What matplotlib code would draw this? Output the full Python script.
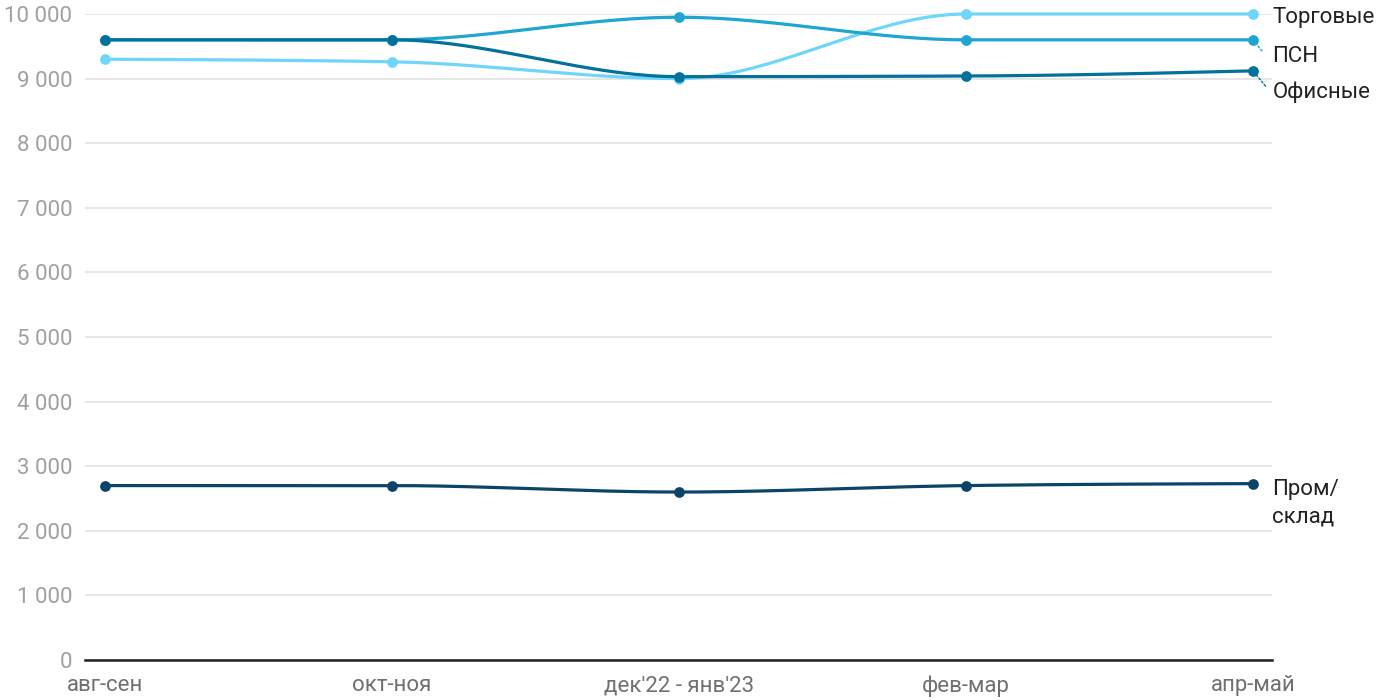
import numpy as np
import matplotlib.pyplot as plt

plt.rcParams['font.family'] = ['Roboto', 'DejaVu Sans']

periods = ["авг-сен", "окт-ноя", "дек'22 - янв'23", "фев-мар", "апр-май"]
torgovye = [9300, 9260, 9000, 10000, 10000]
psn = [9600, 9600, 9950, 9600, 9600]
ofisnye = [9600, 9600, 9030, 9040, 9120]
prom = [2700, 2700, 2600, 2700, 2730]

series = [
    ("Торговые", torgovye, "#6fd6fb"),
    ("ПСН", psn, "#1ea5d2"),
    ("Офисные", ofisnye, "#02719c"),
    ("Пром/\nсклад", prom, "#0b4466"),
]


def monotone_curve(x, y, n=40):
    # monotone cubic (Fritsch-Carlson, like d3 curveMonotoneX)
    x = np.asarray(x, float)
    y = np.asarray(y, float)
    h = np.diff(x)
    d = np.diff(y) / h
    m = np.zeros_like(y)
    for i in range(1, len(y) - 1):
        p = (d[i - 1] * h[i] + d[i] * h[i - 1]) / (h[i - 1] + h[i])
        m[i] = (np.sign(d[i - 1]) + np.sign(d[i])) * min(abs(d[i - 1]), abs(d[i]), 0.5 * abs(p))
    m[0] = 3 * d[0] / 2 - m[1] / 2
    m[-1] = 3 * d[-1] / 2 - m[-2] / 2
    xs, ys = [], []
    for i in range(len(x) - 1):
        t = np.linspace(0, 1, n)
        h00 = 2 * t**3 - 3 * t**2 + 1
        h10 = t**3 - 2 * t**2 + t
        h01 = -2 * t**3 + 3 * t**2
        h11 = t**3 - t**2
        xs.append(x[i] + t * h[i])
        ys.append(h00 * y[i] + h10 * h[i] * m[i] + h01 * y[i + 1] + h11 * h[i] * m[i + 1])
    return np.concatenate(xs), np.concatenate(ys)


fig = plt.figure(figsize=(14, 7), dpi=100)
ax = fig.add_axes([85 / 1400, 40 / 700, 1187 / 1400, 646 / 700])

xpos = np.arange(len(periods))
for name, vals, color in series:
    cx, cy = monotone_curve(xpos, vals)
    ax.plot(cx, cy, color=color, lw=2.3, clip_on=False, zorder=3, solid_capstyle='round')
    ax.scatter(xpos, vals, color=color, s=45, clip_on=False, zorder=4)

ax.set_xlim(-20 / 287, 4 + 19 / 287)
ax.set_ylim(0, 10000)
ax.set_yticks(np.arange(0, 10001, 1000))
ax.set_yticklabels([f"{v:,}".replace(",", " ") for v in range(0, 10001, 1000)])
ax.set_xticks(xpos)
ax.set_xticklabels(periods)
ax.tick_params(axis='y', length=0, pad=9, labelsize=16, labelcolor="#a0a0a0")
ax.tick_params(axis='x', length=0, pad=11, labelsize=16, labelcolor="#707070")
ax.grid(axis='y', color="#e2e2e2", lw=1.2)
ax.set_axisbelow(True)
for s in ["top", "right", "left"]:
    ax.spines[s].set_visible(False)
ax.spines["bottom"].set_color("#222222")
ax.spines["bottom"].set_linewidth(1.8)

# end labels
last = xpos[-1]
lab = dict(textcoords="offset points", va="center", fontsize=16, color="#222222",
           annotation_clip=False)
ax.annotate("Торговые", (last, torgovye[-1]), xytext=(14, -2.5), **lab)
ax.annotate("ПСН", (last, psn[-1]), xytext=(14, -12), **lab)
ax.annotate("Офисные", (last, ofisnye[-1]), xytext=(14, -15.5), **lab)
ax.annotate("Пром/\nсклад", (last, prom[-1]), xytext=(14, -14), linespacing=1.4, **lab)
# dotted leaders
ax.annotate("", (last, psn[-1]), xytext=(6.5, -8), textcoords="offset points",
            arrowprops=dict(arrowstyle="-", color="#1ea5d2", lw=1, ls=(0, (1.5, 1.5)),
                            shrinkA=0, shrinkB=3),
            annotation_clip=False)
ax.annotate("", (last, ofisnye[-1]), xytext=(9, -11), textcoords="offset points",
            arrowprops=dict(arrowstyle="-", color="#02719c", lw=1, ls=(0, (1.5, 1.5)),
                            shrinkA=0, shrinkB=3),
            annotation_clip=False)

fig.savefig("out.png", dpi=100)
